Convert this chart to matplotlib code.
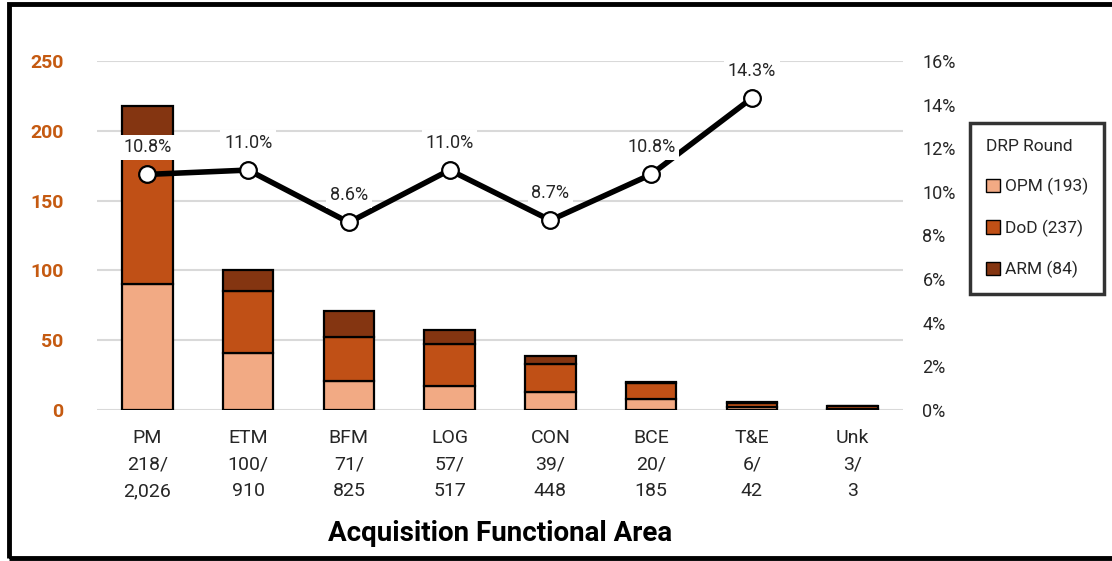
import numpy as np
import matplotlib.pyplot as plt
from matplotlib.patches import Rectangle, Patch

plt.rcParams['font.family'] = ['Roboto', 'DejaVu Sans']

areas = ['PM', 'ETM', 'BFM', 'LOG', 'CON', 'BCE', 'T&E', 'Unk']
selected = ['218', '100', '71', '57', '39', '20', '6', '3']
eligible = ['2,026', '910', '825', '517', '448', '185', '42', '3']
opm = [90, 41, 21, 17, 13, 8, 2, 1]
dod = [96, 44, 31, 30, 20, 11, 3, 2]
arm = [32, 15, 19, 10, 6, 1, 1, 0]
rate_pct = [10.8, 11.0, 8.6, 11.0, 8.7, 10.8, 14.3]

c_opm = '#F2AA84'
c_dod = '#C05016'
c_arm = '#843511'
c_axis = '#C55A11'

fig = plt.figure(figsize=(11.12, 5.61), dpi=100)
ax = fig.add_axes([97 / 1112, 151 / 561, 806 / 1112, 349 / 561])
ax2 = ax.twinx()

x = np.arange(len(areas))
opm_a, dod_a, arm_a = np.array(opm), np.array(dod), np.array(arm)
kw = dict(width=0.5, edgecolor='black', linewidth=1.6, zorder=3)
ax.bar(x, opm_a, color=c_opm, **kw)
ax.bar(x, dod_a, bottom=opm_a, color=c_dod, **kw)
ax.bar(x, arm_a, bottom=opm_a + dod_a, color=c_arm, **kw)

ax.set_xlim(-0.5, len(areas) - 0.5)
ax.set_ylim(0, 250)
ax.set_yticks(range(0, 251, 50))
ax.grid(axis='y', color='#D9D9D9', linewidth=1.5, zorder=0)
ax.set_axisbelow(True)
for s in ax.spines.values():
    s.set_visible(False)
for s in ax2.spines.values():
    s.set_visible(False)
ax.tick_params(axis='y', length=0, pad=24, labelsize=14, labelcolor=c_axis)
for t in ax.get_yticklabels():
    t.set_fontweight('bold')
ax.set_xticks(x)
ax.set_xticklabels([f'{a}\n{s}/\n{e}' for a, s, e in zip(areas, selected, eligible)],
                   fontsize=14, color='#262626', linespacing=1.6)
ax.tick_params(axis='x', length=0, pad=14)
ax.set_xlabel('Acquisition Functional Area', fontsize=20, fontweight='bold',
              labelpad=14, color='black')

# selection rate line on the secondary axis
rx = x[:len(rate_pct)]
ax2.plot(rx, rate_pct, color='black', linewidth=4, marker='o', markersize=12,
         markerfacecolor='white', markeredgecolor='black', markeredgewidth=1.6, zorder=5)
ax2.set_ylim(0, 16)
ax2.set_yticks(range(0, 17, 2))
ax2.set_yticklabels([f'{v}%' for v in range(0, 17, 2)])
ax2.tick_params(axis='y', length=0, pad=14, labelsize=13, labelcolor='#262626')
for xi, v in zip(rx, rate_pct):
    ax2.annotate(f'{v:.1f}%', (xi, v), xytext=(0, 13), textcoords='offset points',
                 ha='center', va='bottom', fontsize=13, color='#262626',
                 bbox=dict(boxstyle='square,pad=0.2', facecolor='white', edgecolor='none'),
                 zorder=6)
ax.set_zorder(1)
ax2.set_zorder(2)
ax2.patch.set_visible(False)

handles = [Patch(facecolor=c_opm, edgecolor='black', label=f'OPM ({sum(opm)})'),
           Patch(facecolor=c_dod, edgecolor='black', label=f'DoD ({sum(dod)})'),
           Patch(facecolor=c_arm, edgecolor='black', label=f'ARM ({sum(arm)})')]
leg = fig.legend(handles=handles, title='DRP Round', loc='upper left',
                 bbox_to_anchor=(970 / 1112, 1 - 123 / 561), borderaxespad=0,
                 fontsize=12.5, title_fontsize=12.5, frameon=True, fancybox=False,
                 handlelength=0.8, handleheight=0.8, handletextpad=0.3,
                 labelspacing=1.4, borderpad=0.9, alignment='left')
leg.get_frame().set_edgecolor('black')
leg.get_frame().set_linewidth(2.5)
leg.get_title().set_color('#262626')
for t in leg.get_texts():
    t.set_color('#262626')

fig.patches.append(Rectangle((9 / 1112, 3 / 561), 1.2, (558 - 4) / 561,
                             transform=fig.transFigure, fill=False,
                             edgecolor='black', linewidth=3.5))

fig.savefig('out.png', dpi=100)
